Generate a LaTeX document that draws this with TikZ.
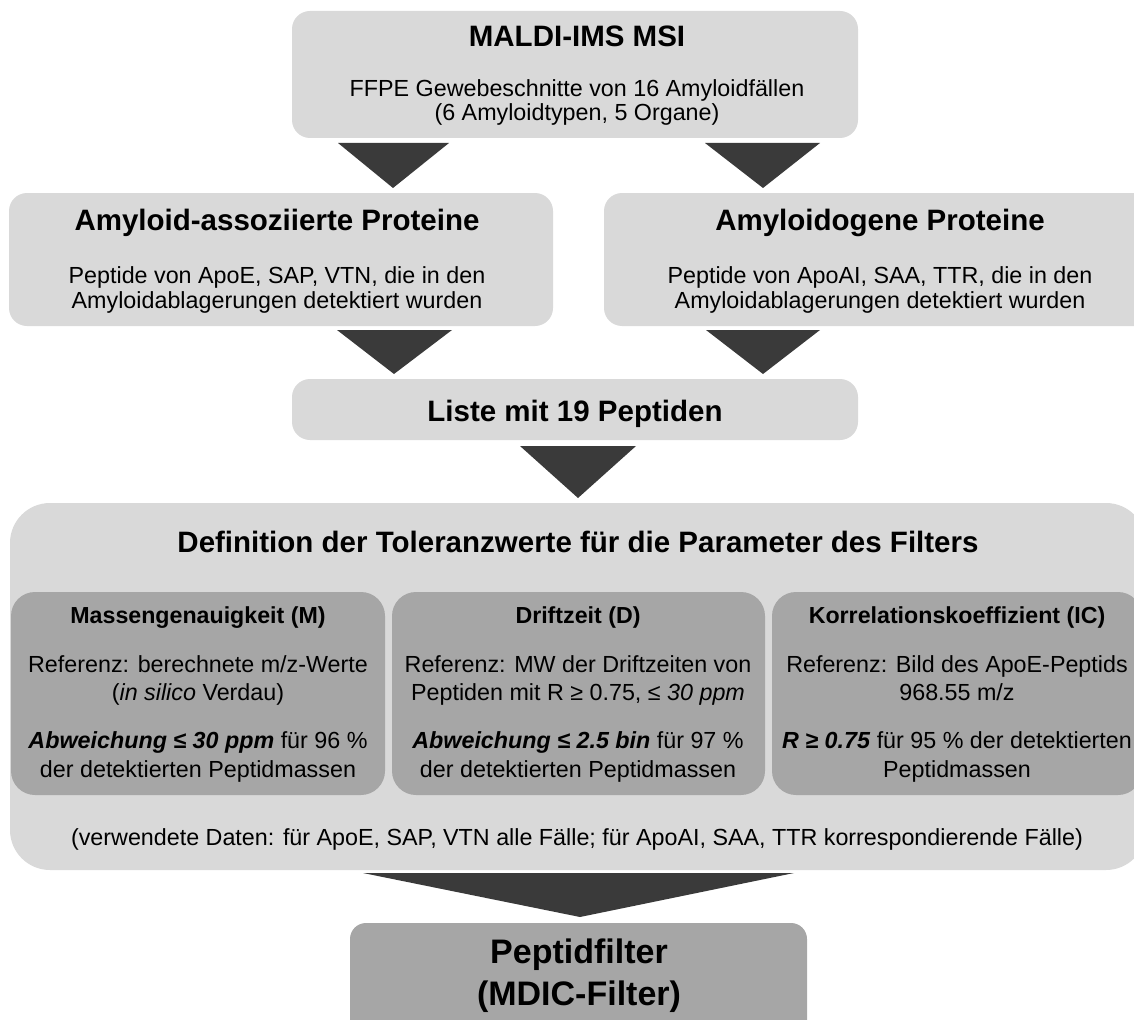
\documentclass[tikz,border=0pt]{standalone}
\usepackage{fontspec}
\setmainfont{Liberation Sans}
\definecolor{lightbox}{HTML}{D9D9D9}
\definecolor{darkbox}{HTML}{A6A6A6}
\definecolor{arrowgray}{HTML}{3A3A3A}
\tikzset{
  lbox/.style={fill=lightbox, draw=none, rounded corners=18pt},
  dbox/.style={fill=darkbox, draw=none, rounded corners=24pt},
  arrowtri/.style={fill=arrowgray, draw=none},
  ttl/.style={font=\fontsize{29.5}{32}\selectfont\bfseries, inner sep=0pt, anchor=base},
  stl/.style={font=\fontsize{23.2}{26}\selectfont\bfseries, inner sep=0pt, anchor=base},
  txt/.style={font=\fontsize{23.3}{26}\selectfont, inner sep=0pt, anchor=base},
  big/.style={font=\fontsize{34}{38}\selectfont\bfseries, inner sep=0pt, anchor=base},
}
\begin{document}
\begin{tikzpicture}[x=1pt,y=-1pt]
\useasboundingbox (0,0) rectangle (1134,1019);
\clip (0,0) rectangle (1134,1019);
% boxes
\path[lbox] (292,11) rectangle (858,138);
\path[lbox] (9,193) rectangle (553,326);
\path[lbox] (604,193) rectangle (1156,326);
\path[lbox] (292,379) rectangle (858,440);
\path[lbox, rounded corners=40pt] (10,503) rectangle (1146,870);
\path[dbox] (11,592) rectangle (385,795);
\path[dbox] (392,592) rectangle (765,795);
\path[dbox] (772,592) rectangle (1142,795);
\path[dbox, rounded corners=16pt] (350,923) rectangle (807,1040);
% arrows
\fill[arrowtri] (338,143) -- (449,143) -- (393,188) -- cycle;
\fill[arrowtri] (705,143) -- (820,143) -- (763,188) -- cycle;
\fill[arrowtri] (337,330) -- (452,330) -- (394,374) -- cycle;
\fill[arrowtri] (706,330) -- (820,330) -- (763,374) -- cycle;
\fill[arrowtri] (520,446) -- (636,446) -- (578,498) -- cycle;
\fill[arrowtri] (363,873) -- (794,873) -- (580,917) -- cycle;
% texts
\node[ttl] (t1) at (577,47) {MALDI-IMS MSI};
\node[txt] (t1a) at (577,97) {FFPE Gewebeschnitte von 16 Amyloidfällen};
\node[txt] (t1b) at (577,121) {(6 Amyloidtypen, 5 Organe)};
\node[ttl] (t2) at (277,230) {Amyloid-assoziierte Proteine};
\node[txt] (t2a) at (277,283) {Peptide von ApoE, SAP, VTN, die in den};
\node[txt] (t2b) at (277,308) {Amyloidablagerungen detektiert wurden};
\node[ttl] (t3) at (880,230) {Amyloidogene Proteine};
\node[txt] (t3a) at (880,283) {Peptide von ApoAI, SAA, TTR, die in den};
\node[txt] (t3b) at (880,308) {Amyloidablagerungen detektiert wurden};
\node[ttl] (t4) at (575,421) {Liste mit 19 Peptiden};
\node[ttl] (t5) at (578,552) {Definition der Toleranzwerte für die Parameter des Filters};
\node[stl] (m0) at (198,623) {Massengenauigkeit (M)};
\node[txt] (m1) at (198,672) {Referenz: berechnete m/z-Werte};
\node[txt] (m2) at (198,700) {(\textit{in silico} Verdau)};
\node[txt] (m3) at (198,748) {\textbf{\textit{Abweichung ≤ 30 ppm}} für 96 \%};
\node[txt] (m4) at (198,777) {der detektierten Peptidmassen};
\node[stl] (d0) at (578,623) {Driftzeit (D)};
\node[txt] (d1) at (578,672) {Referenz: MW der Driftzeiten von};
\node[txt] (d2) at (578,700) {Peptiden mit R ≥ 0.75, ≤ \textit{30 ppm}};
\node[txt] (d3) at (578,748) {\textbf{\textit{Abweichung ≤ 2.5 bin}} für 97 \%};
\node[txt] (d4) at (578,777) {der detektierten Peptidmassen};
\node[stl] (k0) at (957,623) {Korrelationskoeffizient (IC)};
\node[txt] (k1) at (957,672) {Referenz: Bild des ApoE-Peptids};
\node[txt] (k2) at (957,700) {968.55 m/z};
\node[txt] (k3) at (957,748) {\textbf{\textit{R ≥ 0.75}} für 95 \% der detektierten};
\node[txt] (k4) at (957,777) {Peptidmassen};
\node[txt] (u) at (577,845) {(verwendete Daten: für ApoE, SAP, VTN alle Fälle; für ApoAI, SAA, TTR korrespondierende Fälle)};
\node[big] (p1) at (579,963) {Peptidfilter};
\node[big] (p2) at (579,1005) {(MDIC-Filter)};
\end{tikzpicture}
\end{document}
